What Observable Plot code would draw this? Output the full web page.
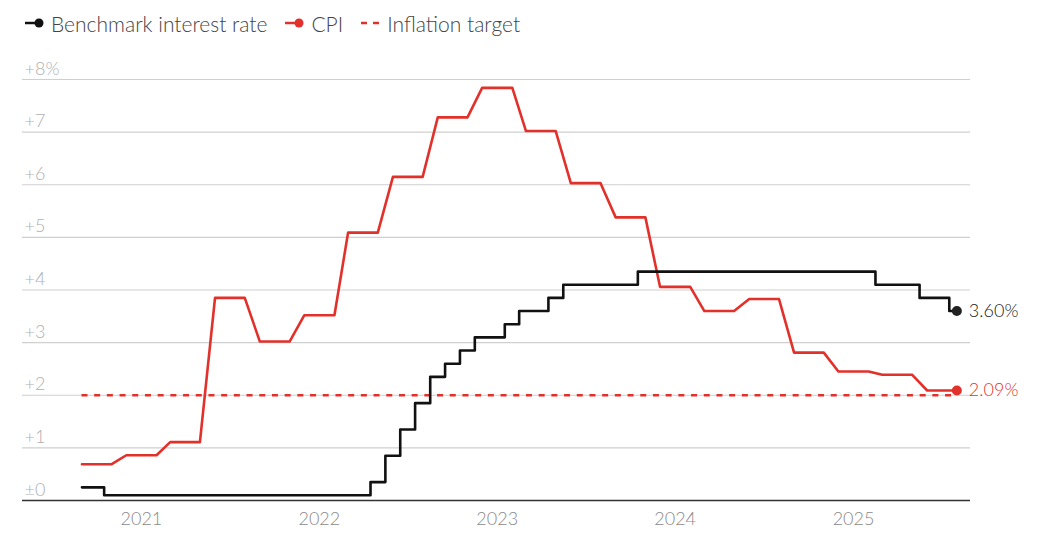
<!DOCTYPE html>
<html><head><meta charset="utf-8">
<script src="https://cdn.jsdelivr.net/npm/d3@7"></script>
<script src="https://cdn.jsdelivr.net/npm/@observablehq/plot@0.6"></script>
<style>
body{margin:0;background:#fff;font-family:Lato,"Noto Sans",sans-serif;}
#legend{height:44px;display:flex;align-items:center;padding-left:24px;font-size:21px;font-weight:300;color:#444;box-sizing:border-box;padding-top:2px}
.item{display:flex;align-items:center;margin-right:17px}
.item svg{margin-right:5px}
#chart svg{display:block}
</style></head><body>
<div id="legend"></div>
<div id="chart"></div>
<script>
// Monthly observations, Sep 2020 – Aug 2025
const firstMonth = "2020-09-01";
const lastMonth = "2025-08-01";
const rate = [
  0.25, 0.25, 0.10, 0.10,
  0.10, 0.10, 0.10, 0.10, 0.10, 0.10, 0.10, 0.10, 0.10, 0.10, 0.10, 0.10,
  0.10, 0.10, 0.10, 0.10, 0.35, 0.85, 1.35, 1.85, 2.35, 2.60, 2.85, 3.10,
  3.10, 3.35, 3.60, 3.60, 3.85, 4.10, 4.10, 4.10, 4.10, 4.10, 4.35, 4.35,
  4.35, 4.35, 4.35, 4.35, 4.35, 4.35, 4.35, 4.35, 4.35, 4.35, 4.35, 4.35,
  4.35, 4.35, 4.10, 4.10, 4.10, 3.85, 3.85, 3.60
];
const cpi = [
  0.69, 0.69, 0.69, 0.86,
  0.86, 0.86, 1.11, 1.11, 1.11, 3.85, 3.85, 3.85, 3.02, 3.02, 3.02, 3.52,
  3.52, 3.52, 5.09, 5.09, 5.09, 6.15, 6.15, 6.15, 7.28, 7.28, 7.28, 7.84,
  7.84, 7.84, 7.02, 7.02, 7.02, 6.03, 6.03, 6.03, 5.38, 5.38, 5.38, 4.06,
  4.06, 4.06, 3.60, 3.60, 3.60, 3.83, 3.83, 3.83, 2.81, 2.81, 2.81, 2.45,
  2.45, 2.45, 2.39, 2.39, 2.39, 2.09, 2.09, 2.09
];
const inflationTarget = 2;
const yTicks = [0, 1, 2, 3, 4, 5, 6, 7, 8];
const yTickLabels = ["±0", "+1", "+2", "+3", "+4", "+5", "+6", "+7", "+8%"];
const years = ["2021", "2022", "2023", "2024", "2025"];
const seriesNames = ["Benchmark interest rate", "CPI", "Inflation target"];

const RED = "#e2312b", BLACK = "#111";

const months = d3.utcMonth.range(new Date(firstMonth), d3.utcMonth.offset(new Date(lastMonth), 1));
const rateData = months.map((d, i) => ({date: d, value: rate[i]}));
const cpiData = months.map((d, i) => ({date: d, value: cpi[i]}));
const yearDates = years.map(y => new Date(y + "-01-01"));
const ends = [
  {date: months[months.length - 1], value: rate[rate.length - 1], color: "#222", label: rate[rate.length - 1].toFixed(2) + "%"},
  {date: months[months.length - 1], value: cpi[cpi.length - 1], color: RED, label: cpi[cpi.length - 1].toFixed(2) + "%"}
];

// legend
const legend = document.getElementById("legend");
const markers = [
  `<svg width="22" height="12"><line x1="1" y1="6" x2="14" y2="6" stroke="${BLACK}" stroke-width="2.5"/><circle cx="15" cy="6" r="4.5" fill="${BLACK}"/></svg>`,
  `<svg width="22" height="12"><line x1="1" y1="6" x2="14" y2="6" stroke="${RED}" stroke-width="2.5"/><circle cx="15" cy="6" r="4.5" fill="${RED}"/></svg>`,
  `<svg width="22" height="12"><line x1="1" y1="6" x2="20" y2="6" stroke="${RED}" stroke-width="2.5" stroke-dasharray="6,6"/></svg>`
];
seriesNames.forEach((n, i) => {
  const s = document.createElement("span");
  s.className = "item";
  s.innerHTML = markers[i] + `<span>${n}</span>`;
  legend.appendChild(s);
});

const chart = Plot.plot({
  width: 1040,
  height: 503,
  marginLeft: 22,
  marginRight: 70,
  marginTop: 35,
  marginBottom: 47,
  style: {fontFamily: "Lato, 'Noto Sans', sans-serif", background: "#fff"},
  x: {type: "utc", domain: [new Date("2020-05-02"), new Date("2025-08-29")]},
  y: {domain: [0, 8], axis: null},
  marks: [
    Plot.ruleY(yTicks.slice(1), {stroke: "#cfcfcf", strokeWidth: 1.2}),
    Plot.ruleY([0], {stroke: "#333", strokeWidth: 1.5}),
    Plot.text(yTicks, {y: d => d, text: (d, i) => yTickLabels[i], frameAnchor: "left", dx: 2, dy: -5, lineAnchor: "bottom", textAnchor: "start", fill: "#b0b0b0", fontSize: 18, fontWeight: 300}),
    Plot.axisX(yearDates, {tickSize: 0, tickPadding: 12, tickFormat: "%Y", fontSize: 18, fontWeight: 300, fill: "#8a8a8a", label: null}),
    Plot.ruleY([inflationTarget], {x1: months[0], x2: months[months.length - 1], stroke: RED, strokeWidth: 2.5, strokeDasharray: "6,6.7"}),
    Plot.line(cpiData, {x: "date", y: "value", stroke: RED, strokeWidth: 2.6}),
    Plot.line(rateData, {x: "date", y: "value", curve: "step", stroke: BLACK, strokeWidth: 2.6}),
    Plot.dot(ends, {x: "date", y: "value", r: 5, fill: "color", stroke: "none"}),
    Plot.text(ends, {x: "date", y: "value", text: "label", fill: "color", dx: 12, textAnchor: "start", fontSize: 18, fontWeight: 300})
  ]
});
document.getElementById("chart").appendChild(chart);
</script>
</body></html>
